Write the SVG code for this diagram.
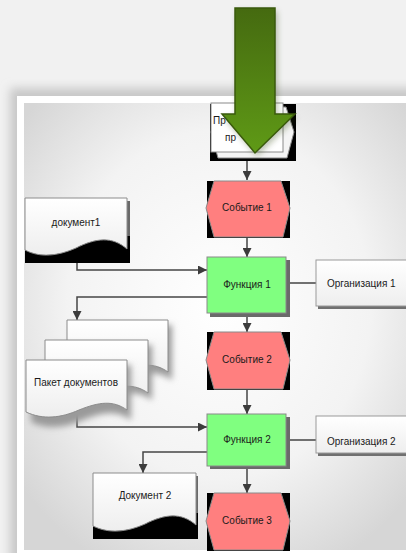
<svg xmlns="http://www.w3.org/2000/svg" width="406" height="553" viewBox="0 0 406 553">
<defs>
  <radialGradient id="panel" cx="0.5" cy="0.45" r="0.65">
    <stop offset="0" stop-color="#ffffff"/>
    <stop offset="0.6" stop-color="#f3f3f3"/>
    <stop offset="1" stop-color="#d6d6d6"/>
  </radialGradient>
  <linearGradient id="arrowFill" x1="0" y1="0" x2="0" y2="1">
    <stop offset="0" stop-color="#456a10"/>
    <stop offset="1" stop-color="#5f9a16"/>
  </linearGradient>
  <linearGradient id="docFill" x1="0" y1="0" x2="0" y2="1">
    <stop offset="0" stop-color="#ffffff"/>
    <stop offset="1" stop-color="#eeeeee"/>
  </linearGradient>
  <filter id="blur" x="-20%" y="-20%" width="140%" height="140%">
    <feGaussianBlur stdDeviation="5"/>
  </filter>
  <filter id="soft" x="-30%" y="-30%" width="160%" height="160%">
    <feGaussianBlur stdDeviation="3"/>
  </filter>
  <marker id="ah" viewBox="0 0 10 10" refX="10" refY="5" markerWidth="9" markerHeight="9" markerUnits="userSpaceOnUse" orient="auto">
    <path d="M0,0 L10,5 L0,10 Z" fill="#3c3c3c"/>
  </marker>
  <style>
    .lbl{font-family:"Liberation Sans",Arial,sans-serif;font-size:10px;fill:#1a1a1a}
    .con{fill:none;stroke:#454545;stroke-width:1.5}
    .evt{fill:#ff7f7f;stroke:#8a8a8a;stroke-width:1}
    .blk{fill:#000000}
    .fn{fill:#80ff80;stroke:#8a8a8a;stroke-width:1}
    .shd{fill:#6a6a6a}
    .doc{fill:url(#docFill);stroke:#8c8c8c;stroke-width:1}
    .org{fill:url(#docFill);stroke:#9a9a9a;stroke-width:1}
  </style>
</defs>

<!-- background -->
<rect x="0" y="0" width="406" height="553" fill="#f1f1f1"/>
<rect x="10" y="88" width="410" height="475" fill="#c8c8c8" filter="url(#blur)"/>
<rect x="17" y="96" width="395" height="460" fill="#ffffff"/>
<rect x="24" y="103" width="390" height="447" fill="url(#panel)"/>

<g id="connectors">
  <path class="con" d="M247,161 V180" marker-end="url(#ah)"/>
  <path class="con" d="M247,238 V257" marker-end="url(#ah)"/>
  <path class="con" d="M77,252 V270 H207" marker-end="url(#ah)"/>
  <path class="con" d="M207,297 H77 V320" marker-end="url(#ah)"/>
  <path class="con" d="M286,283 H316"/>
  <path class="con" d="M247,314 V332" marker-end="url(#ah)"/>
  <path class="con" d="M77,412 V427 H207" marker-end="url(#ah)"/>
  <path class="con" d="M247,390 V414" marker-end="url(#ah)"/>
  <path class="con" d="M286,440 H316"/>
  <path class="con" d="M207,452 H143 V473" marker-end="url(#ah)"/>
  <path class="con" d="M247,468 V493" marker-end="url(#ah)"/>
</g>

<g id="process-interface">
  <rect x="210" y="104" width="86" height="57" class="blk"/>
  <polygon points="218,107 286,107 294,132 287,158 218,158 211,132" fill="#f4f4f4" stroke="#8a8a8a"/>
  <rect x="211" y="103" width="72" height="49" fill="#ffffff" stroke="#8a8a8a"/>
  <text class="lbl" x="213" y="124">Пр</text>
  <text class="lbl" x="225" y="141">пр</text>
</g>

<g id="event1">
  <rect x="207" y="181" width="83" height="57" class="blk"/>
  <polygon points="214,181 281,181 290,208 283,237 214,237 206,208" class="evt"/>
  <text class="lbl" x="247" y="211" text-anchor="middle">Событие 1</text>
</g>

<g id="function1">
  <rect x="210" y="260" width="80" height="57" class="shd"/>
  <rect x="207" y="257" width="79" height="56" class="fn"/>
  <text class="lbl" x="247" y="288" text-anchor="middle">Функция 1</text>
</g>

<g id="document1">
  <rect x="28" y="201" width="102" height="62" class="shd"/>
  <rect x="25" y="236" width="105" height="27" class="blk"/>
  <path class="doc" d="M25,198 H127 V249 C112,236 96,238 76,248 C58,256 40,258 25,250 Z"/>
  <text class="lbl" x="76" y="226" text-anchor="middle">документ1</text>
</g>

<g id="organization1">
  <rect x="318" y="262" width="100" height="47" fill="#707070"/>
  <rect x="316" y="260" width="100" height="46" class="org"/>
  <text class="lbl" x="327" y="287">Организация 1</text>
</g>

<g id="document-package">
  <path d="M72,325 H172 V380 C158,370 144,372 124,380 C106,388 88,390 72,382 Z" fill="#9a9a9a" filter="url(#soft)"/>
  <path class="doc" d="M67,320 H168 V372 C154,362 140,364 120,372 C102,380 84,382 67,374 Z"/>
  <path d="M50,345 H152 V400 C138,390 124,392 104,400 C86,408 68,410 50,402 Z" fill="#9a9a9a" filter="url(#soft)"/>
  <path class="doc" d="M45,340 H148 V393 C134,383 120,385 100,393 C82,401 64,403 45,395 Z"/>
  <path d="M31,365 H131 V420 C117,410 103,412 83,420 C65,428 47,430 31,422 Z" fill="#9a9a9a" filter="url(#soft)"/>
  <path class="doc" d="M26,360 H127 V410 C113,400 99,402 79,410 C61,418 43,420 26,412 Z"/>
  <text class="lbl" x="76" y="386" text-anchor="middle">Пакет документов</text>
</g>

<g id="event2">
  <rect x="207" y="332" width="83" height="58" class="blk"/>
  <polygon points="214,332 281,332 290,360 283,389 214,389 206,360" class="evt"/>
  <text class="lbl" x="247" y="363" text-anchor="middle">Событие 2</text>
</g>

<g id="function2">
  <rect x="210" y="417" width="80" height="52" class="shd"/>
  <rect x="207" y="414" width="79" height="52" class="fn"/>
  <text class="lbl" x="247" y="443" text-anchor="middle">Функция 2</text>
</g>

<g id="organization2">
  <rect x="318" y="418" width="100" height="38" fill="#707070"/>
  <rect x="316" y="416" width="100" height="37" class="org"/>
  <text class="lbl" x="327" y="445">Организация 2</text>
</g>

<g id="document2">
  <rect x="96" y="476" width="102" height="63" class="shd"/>
  <rect x="93" y="513" width="105" height="26" class="blk"/>
  <path class="doc" d="M93,473 H196 V525 C181,512 165,514 145,524 C127,532 109,534 93,526 Z"/>
  <text class="lbl" x="145" y="499" text-anchor="middle">Документ 2</text>
</g>

<g id="event3">
  <rect x="207" y="493" width="83" height="58" class="blk"/>
  <polygon points="214,493 281,493 290,521 283,550 214,550 206,521" class="evt"/>
  <text class="lbl" x="247" y="524" text-anchor="middle">Событие 3</text>
</g>

<g id="green-arrow">
  <polygon points="237,11 277,11 277,117 297,117 257,156 224,117 237,117" fill="#2a4008" opacity="0.35" filter="url(#soft)"/>
  <polygon points="235,8 275,8 275,114 295,114 255,153 222,114 235,114" fill="url(#arrowFill)" stroke="#3a5a0c" stroke-width="1.5" stroke-linejoin="miter"/>
</g>
</svg>
